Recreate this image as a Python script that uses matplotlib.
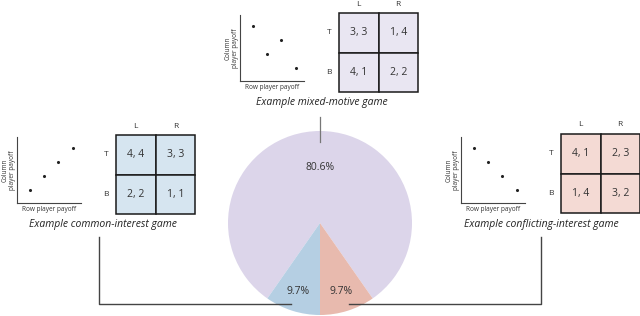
#!/usr/bin/env python
"""Pie chart of game types with example payoff matrices around it."""

import numpy as np
import matplotlib
matplotlib.use("Agg")
import matplotlib.pyplot as plt
from matplotlib.patches import Rectangle

plt.rcParams['font.family'] = ['Open Sans', 'DejaVu Sans']

# Pie data
categories = ["mixed-motive", "common-interest", "conflicting-interest"]
shares = [80.6, 9.7, 9.7]
pie_colors = ["#dcd5ea", "#b5cfe3", "#e8baae"]

# Example payoff matrices (row payoff, column payoff)
mixed_payoffs = [[(3, 3), (1, 4)], [(4, 1), (2, 2)]]
common_payoffs = [[(4, 4), (3, 3)], [(2, 2), (1, 1)]]
conflict_payoffs = [[(4, 1), (2, 3)], [(1, 4), (3, 2)]]
row_labels = ["T", "B"]
col_labels = ["L", "R"]
captions = ["Example mixed-motive game",
            "Example common-interest game",
            "Example conflicting-interest game"]
table_colors = ["#e9e6f2", "#d6e5f0", "#f4dad4"]

W, H = 640, 316
TEXT = "#333333"

fig = plt.figure(figsize=(W / 100, H / 100), dpi=100)


def px_axes(left, top, width, height):
    """Add axes using pixel coordinates measured from the top-left."""
    return fig.add_axes([left / W, (H - top - height) / H, width / W, height / H])


# Pie
cx, cy, r = 320, 223, 92
pie_ax = px_axes(cx - r, cy - r, 2 * r, 2 * r)
start = 270 + 360 * shares[2] / sum(shares)
wedges, texts, autotexts = pie_ax.pie(
    shares, colors=pie_colors, startangle=start, counterclock=True,
    autopct="%.1f%%", pctdistance=0.6,
    textprops=dict(fontsize=7.5, color=TEXT),
    wedgeprops=dict(linewidth=0))
# push the small-slice labels further out
for w, t, d in zip(wedges, autotexts, [0.6, 0.78, 0.78]):
    ang = np.deg2rad((w.theta1 + w.theta2) / 2)
    t.set_position((d * np.cos(ang), d * np.sin(ang)))
pie_ax.set_xlim(-1, 1)
pie_ax.set_ylim(-1, 1)
pie_ax.set_aspect("equal")


def payoff_scatter(left, bottom, payoffs):
    ax = px_axes(left, bottom - 66, 64, 66)
    pts = [p for row in payoffs for p in row]
    ax.scatter([p[0] for p in pts], [p[1] for p in pts], s=1.5, color="#222222")
    ax.set_xlim(0.07, 4.6)
    ax.set_ylim(0.07, 4.75)
    ax.set_xticks([])
    ax.set_yticks([])
    for side in ["top", "right"]:
        ax.spines[side].set_visible(False)
    for side in ["left", "bottom"]:
        ax.spines[side].set_color("#444444")
        ax.spines[side].set_linewidth(0.8)
    ax.set_xlabel("Row player payoff", fontsize=4.7, labelpad=2, color=TEXT)
    ax.set_ylabel("Column\nplayer payoff", fontsize=4.7, labelpad=1,
                  color=TEXT, linespacing=0.9)
    return ax


payoff_scatter(240, 81, mixed_payoffs)
payoff_scatter(17, 203, common_payoffs)
payoff_scatter(461, 203, conflict_payoffs)

# Overlay in pixel coordinates for tables, captions and connectors
ov = fig.add_axes([0, 0, 1, 1])
ov.set_xlim(0, W)
ov.set_ylim(H, 0)
ov.axis("off")
ov.patch.set_alpha(0)


def payoff_table(x0, y0, payoffs, color, cell=39.5):
    for i, row in enumerate(payoffs):
        for j, (a, b) in enumerate(row):
            ov.add_patch(Rectangle((x0 + j * cell, y0 + i * cell), cell, cell,
                                   facecolor=color, edgecolor="#1a1a1a", lw=1.1))
            ov.text(x0 + (j + 0.5) * cell, y0 + (i + 0.5) * cell, f"{a}, {b}",
                    ha="center", va="center", fontsize=7.5, color=TEXT)
    for j, lab in enumerate(col_labels):
        ov.text(x0 + (j + 0.5) * cell, y0 - 9, lab, ha="center", va="center",
                fontsize=6, color=TEXT)
    for i, lab in enumerate(row_labels):
        ov.text(x0 - 10, y0 + (i + 0.5) * cell, lab, ha="center", va="center",
                fontsize=6, color=TEXT)


payoff_table(339, 13, mixed_payoffs, table_colors[0])
payoff_table(116, 135, common_payoffs, table_colors[1])
payoff_table(561, 134, conflict_payoffs, table_colors[2])

for (x, y), cap in zip([(322, 103), (103, 225), (541, 225)], captions):
    ov.text(x, y, cap, ha="center", va="center", fontsize=7.5,
            style="italic", color="#222222")

# Connectors
ov.plot([320, 320], [117, 142], color="#777777", lw=0.9)
ov.plot([99, 99, 291], [237, 304, 304], color="#444444", lw=1)
ov.plot([541, 541, 349], [237, 304, 304], color="#444444", lw=1)

fig.savefig("out.png", dpi=100)
